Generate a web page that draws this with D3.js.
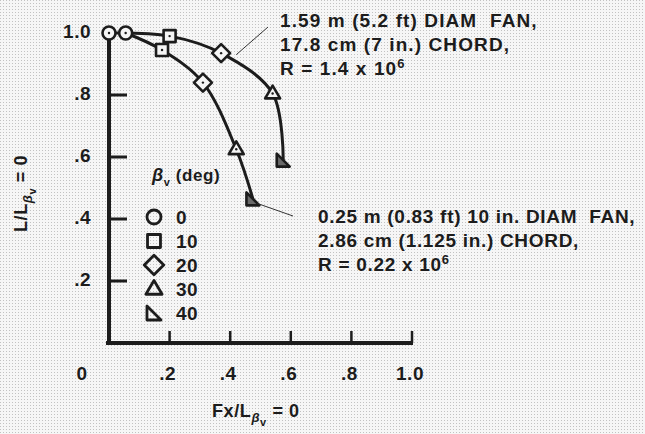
<!DOCTYPE html>
<html>
<head>
<meta charset="utf-8">
<script src="https://cdn.jsdelivr.net/npm/d3@7"></script>
<style>
  html, body { margin: 0; padding: 0; background: #f4f4f4; }
  svg { display: block; }
  text { font-family: "Liberation Sans", Arial, sans-serif; font-weight: bold; fill: #1c1c1c; }
</style>
</head>
<body>
<svg id="chart" width="645" height="434"></svg>
<script>
// data
const betas = [0, 10, 20, 30, 40];
const largeFx = [0.0, 0.20, 0.37, 0.54, 0.575];
const largeL = [1.0, 0.99, 0.935, 0.805, 0.59];
const smallFx = [0.055, 0.175, 0.31, 0.42, 0.475];
const smallL = [1.0, 0.945, 0.84, 0.625, 0.465];
const xTicks = [0.2, 0.4, 0.6, 0.8, 1.0];
const yTicks = [0.2, 0.4, 0.6, 0.8];
const yLabels = [0.2, 0.4, 0.6, 0.8, 1.0];
const largeText = ["1.59 m (5.2 ft) DIAM  FAN,", "17.8 cm (7 in.) CHORD,"];
const smallText = ["0.25 m (0.83 ft) 10 in. DIAM  FAN,", "2.86 cm (1.125 in.) CHORD,"];

const svg = d3.select("#chart");

// scanned halftone background
const defs = svg.append("defs");
const pat = defs.append("pattern").attr("id", "dots")
  .attr("width", 3).attr("height", 3).attr("patternUnits", "userSpaceOnUse");
pat.append("rect").attr("width", 3).attr("height", 3).attr("fill", "#f6f6f6");
pat.append("rect").attr("width", 1).attr("height", 1).attr("fill", "#c2c2c2");
svg.append("rect").attr("width", 645).attr("height", 434).attr("fill", "url(#dots)");

const x = d3.scaleLinear().domain([0, 1]).range([109, 412]);
const y = d3.scaleLinear().domain([0, 1]).range([343, 33]);
const ink = "#1c1c1c";

const fmt = v => v === 0 ? "0" : v === 1 ? "1.0" : d3.format(".1f")(v).replace(/^0/, "");

// axes
const g = svg.append("g");
g.append("line").attr("x1", x(0)).attr("x2", x(0)).attr("y1", y(1)).attr("y2", y(0) + 2)
  .attr("stroke", ink).attr("stroke-width", 4);
g.append("line").attr("x1", x(0) - 3).attr("x2", x(1) + 1).attr("y1", y(0)).attr("y2", y(0))
  .attr("stroke", ink).attr("stroke-width", 4);
g.selectAll(".xt").data(xTicks).enter().append("line")
  .attr("x1", d => x(d)).attr("x2", d => x(d))
  .attr("y1", y(0)).attr("y2", y(0) - 12)
  .attr("stroke", ink).attr("stroke-width", 2.5);
g.selectAll(".yt").data(yTicks).enter().append("line")
  .attr("x1", x(0)).attr("x2", x(0) + 18)
  .attr("y1", d => y(d)).attr("y2", d => y(d))
  .attr("stroke", ink).attr("stroke-width", 3);

g.selectAll(".xl").data([0].concat(xTicks)).enter().append("text")
  .attr("x", d => d === 0 ? x(0) - 27 : x(d) - 2)
  .attr("y", y(0) + 37)
  .attr("text-anchor", "middle").attr("font-size", 19).attr("letter-spacing", 0.5)
  .text(fmt);
g.selectAll(".yl").data(yLabels).enter().append("text")
  .attr("x", 91)
  .attr("y", d => y(d) + 5)
  .attr("text-anchor", "end").attr("font-size", 19).attr("letter-spacing", 0.5)
  .text(fmt);

// axis titles
const xt = svg.append("text").attr("x", 212).attr("y", 417).attr("font-size", 18).attr("letter-spacing", 0.6);
xt.append("tspan").text("Fx/L");
xt.append("tspan").attr("dy", 5).attr("font-size", 13).attr("font-style", "italic").text("β");
xt.append("tspan").attr("dy", 4).attr("font-size", 11).text("v");
xt.append("tspan").attr("dy", -9).text(" = 0");

const yt = svg.append("text").attr("transform", "translate(27,232) rotate(-90)").attr("font-size", 18).attr("letter-spacing", 0.6);
yt.append("tspan").text("L/L");
yt.append("tspan").attr("dy", 5).attr("font-size", 13).attr("font-style", "italic").text("β");
yt.append("tspan").attr("dy", 4).attr("font-size", 11).text("v");
yt.append("tspan").attr("dy", -9).text(" = 0");

// marker shapes
function shape(beta, s) {
  const p = d3.path();
  if (beta === 0) { p.arc(0, 0, 6.5 * s, 0, 2 * Math.PI); }
  else if (beta === 10) { const h = 6 * s; p.rect(-h, -h, 2 * h, 2 * h); }
  else if (beta === 20) { const h = 9 * s; p.moveTo(0, -h); p.lineTo(h, 0); p.lineTo(0, h); p.lineTo(-h, 0); p.closePath(); }
  else if (beta === 30) { const h = 7.5 * s; p.moveTo(0, -h * 1.05); p.lineTo(h, h * 0.65); p.lineTo(-h, h * 0.65); p.closePath(); }
  else { const h = 6.5 * s; p.moveTo(-h, -h); p.lineTo(-h, h); p.lineTo(h, h); p.closePath(); }
  return p.toString();
}

// curves
const line = d3.line().x(d => x(d[0])).y(d => y(d[1])).curve(d3.curveCatmullRom.alpha(0.5));
const large = largeFx.map((v, i) => [v, largeL[i], betas[i]]);
const small = smallFx.map((v, i) => [v, smallL[i], betas[i]]);
[large, small].forEach(ser => {
  svg.append("path").attr("d", line(ser)).attr("fill", "none")
    .attr("stroke", ink).attr("stroke-width", 3);
});
[large, small].forEach(ser => {
  const m = svg.append("g").selectAll("g").data(ser).enter().append("g")
    .attr("transform", d => `translate(${x(d[0])},${y(d[1])})`);
  m.append("path").attr("d", d => shape(d[2], 1))
    .attr("fill", d => d[2] === 40 ? "#6a6a6a" : "#f5f5f5")
    .attr("stroke", ink).attr("stroke-width", 2.6).attr("stroke-linejoin", "round");
  m.filter(d => d[2] !== 40).append("circle").attr("r", 1.2).attr("fill", ink);
});

// legend
const leg = svg.append("g");
const lt = leg.append("text").attr("x", 152).attr("y", 181).attr("font-size", 17).attr("letter-spacing", 0.6);
lt.append("tspan").attr("font-style", "italic").attr("font-size", 18).text("β");
lt.append("tspan").attr("dy", 5).attr("font-size", 11).text("v");
lt.append("tspan").attr("dy", -5).text(" (deg)");
const items = leg.selectAll(".it").data(betas).enter().append("g")
  .attr("transform", (d, i) => `translate(154,${217 + i * 24})`);
items.append("path").attr("d", d => shape(d, 1.08)).attr("fill", "none")
  .attr("stroke", ink).attr("stroke-width", 2.8).attr("stroke-linejoin", "round");
items.append("text").attr("x", 22).attr("y", 7).attr("font-size", 19).attr("letter-spacing", 0.5).text(d => d);

// annotations
const anchors = [[0.42, 0.93], [0.49, 0.45]];
svg.append("line").attr("x1", x(anchors[0][0])).attr("y1", y(anchors[0][1]))
  .attr("x2", 268).attr("y2", 27).attr("stroke", "#333").attr("stroke-width", 1);
svg.append("line").attr("x1", x(anchors[1][0])).attr("y1", y(anchors[1][1]))
  .attr("x2", 293).attr("y2", 216).attr("stroke", "#333").attr("stroke-width", 1);

function block(lines, x0, y0, rText, rExp, ls) {
  lines.forEach((s, i) => {
    svg.append("text").attr("x", x0).attr("y", y0 + i * 24).attr("font-size", 19)
      .attr("letter-spacing", ls).style("white-space", "pre").text(s);
  });
  const r = svg.append("text").attr("x", x0).attr("y", y0 + 48).attr("font-size", 19)
    .attr("letter-spacing", ls).style("white-space", "pre");
  r.append("tspan").text(rText);
  r.append("tspan").attr("dy", -7).attr("font-size", 13).text(rExp);
}
block(largeText, 280, 27, "R = 1.4 x 10", "6", 1.1);
block(smallText, 318, 223, "R = 0.22 x 10", "6", 0.7);
</script>
</body>
</html>
